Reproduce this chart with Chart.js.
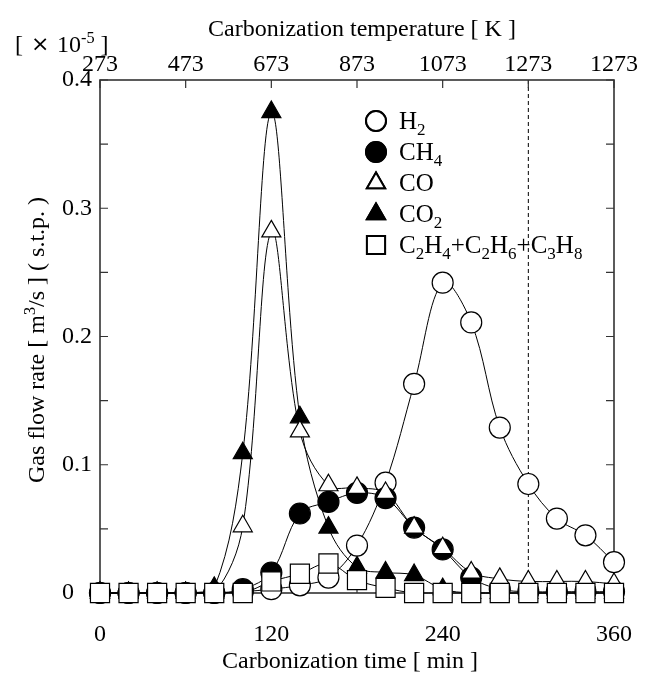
<!DOCTYPE html>
<html>
<head>
<meta charset="utf-8">
<script src="https://cdn.jsdelivr.net/npm/chart.js@4.4.1/dist/chart.umd.min.js"></script>
<style>
  html, body { margin: 0; padding: 0; background: #fff; }
  #wrap { width: 645px; height: 686px; }
</style>
</head>
<body>
<div id="wrap"><canvas id="chart" width="645" height="686"></canvas></div>
<script>
// carbonization time [min] and gas flow rates [x 1e-5 m3/s]
const minutes = [0, 20, 40, 60, 80, 100, 120, 140, 160, 180, 200, 220, 240, 260, 280, 300, 320, 340, 360];
const h2  = [0, 0, 0, 0, 0, 0.001, 0.003, 0.006, 0.012, 0.037, 0.086, 0.163, 0.242, 0.211, 0.129, 0.085, 0.058, 0.045, 0.024];
const ch4 = [0, 0, 0, 0, 0, 0.003, 0.016, 0.062, 0.071, 0.078, 0.074, 0.051, 0.034, 0.012, 0.003, 0.001, 0.001, 0.001, 0.001];
const co  = [0, 0, 0, 0, 0, 0.052, 0.282, 0.126, 0.084, 0.082, 0.078, 0.051, 0.035, 0.016, 0.011, 0.009, 0.009, 0.009, 0.007];
const co2 = [0, 0, 0, 0, 0.004, 0.109, 0.375, 0.137, 0.051, 0.020, 0.016, 0.014, 0.003, 0, 0, 0, 0, 0, 0];
const hc  = [0, 0, 0, 0, 0, 0, 0.009, 0.015, 0.023, 0.010, 0.004, 0, 0, 0, 0, 0, 0, 0, 0];

const tempLabels = ['273', '473', '673', '873', '1073', '1273', '1273'];
const seriesNames = ['H2', 'CH4', 'CO', 'CO2', 'C2H4+C2H6+C3H8'];
const dashedAt = 300;

const SERIF = '"Liberation Serif", "Times New Roman", serif';

function pts(vals) {
    return minutes.map((m, i) => ({ x: m, y: vals[i] }));
}

// marker styles per series, same order as seriesNames
const markers = [
    { style: 'circle',   fill: '#fff', r: 10.5, order: 4 },
    { style: 'circle',   fill: '#000', r: 10.5, order: 3 },
    { style: 'triangle', fill: '#fff', r: 11,   order: 1 },
    { style: 'triangle', fill: '#000', r: 11,   order: 2 },
    { style: 'rect',     fill: '#fff', r: 13.5, order: 0 }
];
const allSeries = [h2, ch4, co, co2, hc];

const datasets = allSeries.map((vals, i) => ({
    label: seriesNames[i],
    data: pts(vals),
    borderColor: '#000',
    borderWidth: 1,
    pointStyle: markers[i].style,
    pointRadius: markers[i].r,
    pointBackgroundColor: markers[i].fill,
    pointBorderColor: '#000',
    pointBorderWidth: 1.2,
    tension: 0.35,
    clip: false,
    order: markers[i].order
}));

// text with sub/superscripts: parts = [[text, 'sub'|'sup'|null], ...]
function richWidth(ctx, parts, size) {
    let w = 0;
    parts.forEach(p => {
        ctx.font = (p[1] ? size * 0.68 : size) + 'px ' + SERIF;
        w += ctx.measureText(p[0]).width;
    });
    return w;
}
function drawRich(ctx, parts, x, y, size) {
    parts.forEach(p => {
        const small = !!p[1];
        ctx.font = (small ? size * 0.68 : size) + 'px ' + SERIF;
        let dy = 0;
        if (p[1] === 'sub') dy = size * 0.25;
        if (p[1] === 'sup') dy = -size * 0.38;
        ctx.fillText(p[0], x, y + dy);
        x += ctx.measureText(p[0]).width;
    });
}
function chemParts(name) {
    return name.split(/(\d+)/).filter(s => s).map(s => [s, /^\d+$/.test(s) ? 'sub' : null]);
}

const framePlugin = {
    id: 'framePlugin',
    beforeDatasetsDraw(chart) {
        const { ctx, chartArea: a, scales } = chart;
        ctx.save();
        // dashed line
        const xd = scales.x.getPixelForValue(dashedAt);
        ctx.strokeStyle = '#000';
        ctx.lineWidth = 1;
        ctx.setLineDash([4, 3]);
        ctx.beginPath();
        ctx.moveTo(xd, a.top);
        ctx.lineTo(xd, a.bottom);
        ctx.stroke();
        ctx.setLineDash([]);
        // frame
        ctx.strokeStyle = '#333';
        ctx.lineWidth = 1.6;
        ctx.strokeRect(a.left, a.top, a.right - a.left, a.bottom - a.top);
        // inward ticks
        ctx.lineWidth = 1.2;
        ctx.beginPath();
        for (let k = 0; k <= 8; k++) {
            const y = scales.y.getPixelForValue(k * 0.05);
            ctx.moveTo(a.left, y); ctx.lineTo(a.left + 8, y);
            ctx.moveTo(a.right, y); ctx.lineTo(a.right - 8, y);
        }
        for (let m = 0; m <= 360; m += 60) {
            const x = scales.x.getPixelForValue(m);
            ctx.moveTo(x, a.top); ctx.lineTo(x, a.top + 8);
            ctx.moveTo(x, a.bottom); ctx.lineTo(x, a.bottom - 8);
        }
        ctx.stroke();
        ctx.restore();
    },
    afterDraw(chart) {
        const { ctx, chartArea: a } = chart;
        ctx.save();
        ctx.fillStyle = '#000';
        ctx.textBaseline = 'alphabetic';
        ctx.textAlign = 'left';

        // legend
        const lx = 376, ly0 = 121, step = 31;
        seriesNames.forEach((name, i) => {
            const y = ly0 + i * step;
            const m = markers[i];
            ctx.fillStyle = m.fill;
            ctx.strokeStyle = '#000';
            ctx.lineWidth = 2;
            Chart.helpers.drawPoint(ctx, { pointStyle: m.style, radius: m.r * 0.95, borderWidth: 2 }, lx, y);
            ctx.fill();
            ctx.stroke();
            ctx.fillStyle = '#000';
            drawRich(ctx, chemParts(name), 399, y + 8, 25);
        });

        // axis titles
        const mid = (a.left + a.right) / 2;
        ctx.font = '24px ' + SERIF;
        ctx.textAlign = 'center';
        ctx.fillText('Carbonization time [ min ]', mid - 7, 668);
        ctx.fillText('Carbonization temperature [ K ]', mid + 5, 36);
        ctx.textAlign = 'left';

        // y title, rotated
        const yParts = [['Gas flow rate [ m', null], ['3', 'sup'], ['/s ] ( s.t.p. )', null]];
        const yw = richWidth(ctx, yParts, 24);
        ctx.save();
        ctx.translate(44, 340);
        ctx.rotate(-Math.PI / 2);
        drawRich(ctx, yParts, -yw / 2, 0, 24);
        ctx.restore();

        // unit factor
        ctx.font = '24px ' + SERIF;
        ctx.fillText('[', 15, 52);
        ctx.font = '22px "DejaVu Sans", sans-serif';
        ctx.fillText('\u00d7', 31, 51);
        drawRich(ctx, [['10', null], ['-5', 'sup'], [' ]', null]], 57, 52, 24);
        ctx.restore();
    }
};

const tickFont = { family: SERIF, size: 24 };

// keep the frame where it is in the figure: no extra room for edge labels
function noSidePad(s) {
    s.paddingLeft = 0;
    s.paddingRight = 0;
}

new Chart(document.getElementById('chart'), {
    type: 'line',
    data: { datasets },
    options: {
        responsive: false,
        animation: false,
        events: [],
        layout: { padding: { left: 62, right: 31, top: 0, bottom: 0 } },
        plugins: { legend: { display: false }, tooltip: { enabled: false } },
        scales: {
            x: {
                type: 'linear', position: 'bottom', min: 0, max: 360,
                grid: { display: false }, border: { display: false },
                ticks: { stepSize: 120, autoSkip: false, maxRotation: 0, color: '#000', font: tickFont, padding: 19 },
                afterFit(s) { s.height = 93; noSidePad(s); }
            },
            x2: {
                type: 'linear', position: 'top', min: 0, max: 360,
                grid: { display: false }, border: { display: false },
                ticks: {
                    stepSize: 60, autoSkip: false, maxRotation: 0, color: '#000', font: tickFont, padding: -7,
                    callback: (v, i) => tempLabels[i]
                },
                afterFit(s) { s.height = 80; noSidePad(s); }
            },
            y: {
                type: 'linear', min: 0, max: 0.4,
                grid: { display: false }, border: { display: false },
                ticks: {
                    stepSize: 0.1, color: '#000', font: tickFont, crossAlign: 'far',
                    callback: v => v === 0 ? '0' : v.toFixed(1)
                },
                afterFit(s) { s.width = 38; s.paddingTop = 0; s.paddingBottom = 0; }
            }
        }
    },
    plugins: [framePlugin]
});
</script>
</body>
</html>
